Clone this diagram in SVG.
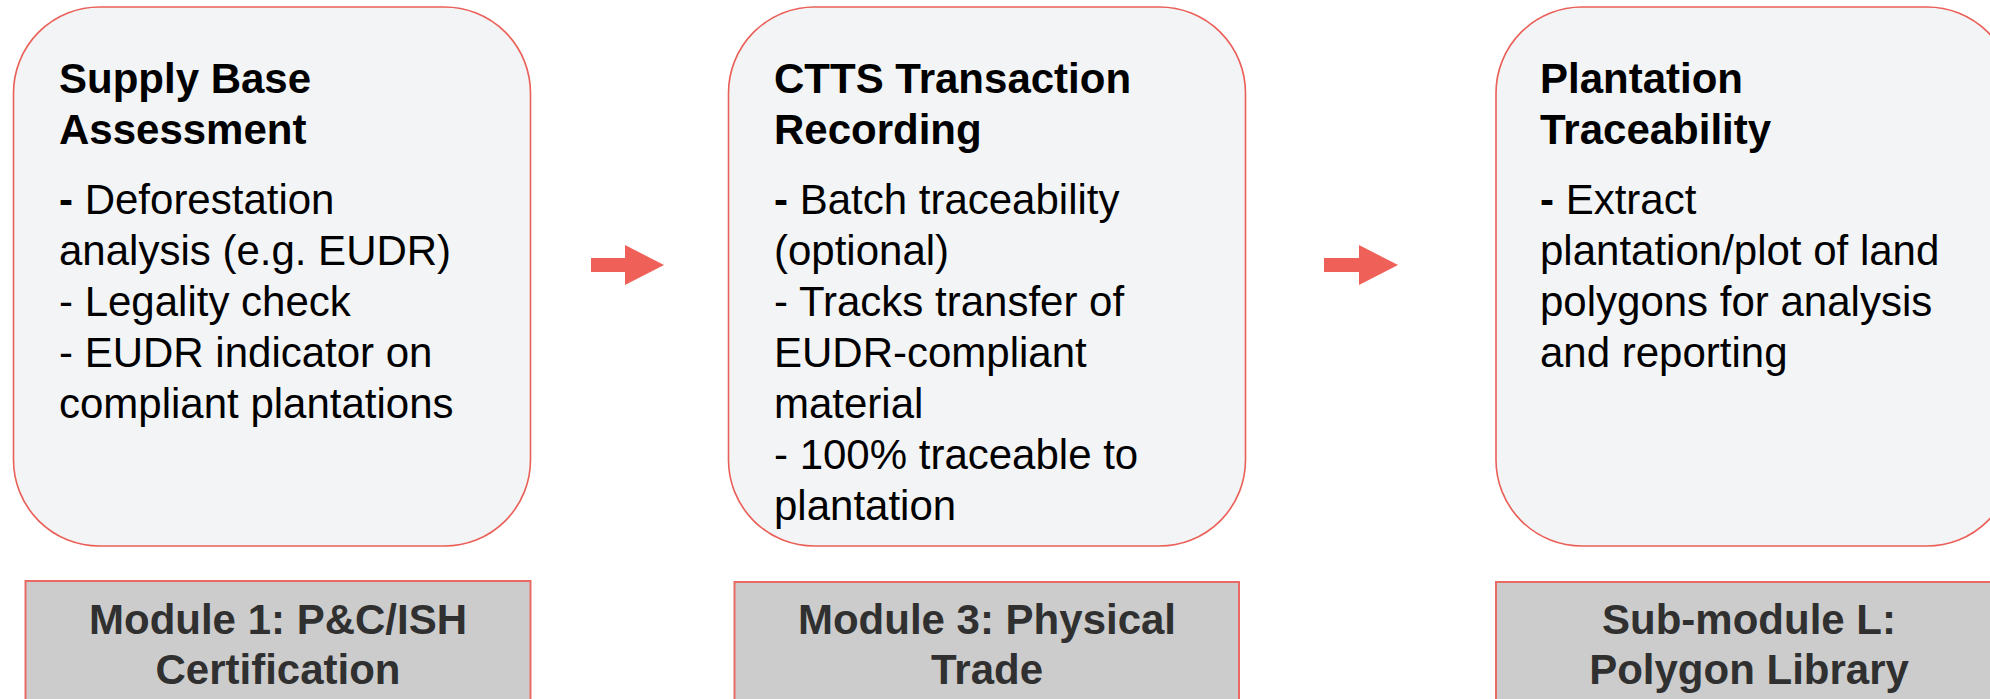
<svg xmlns="http://www.w3.org/2000/svg" width="1990" height="699" viewBox="0 0 1990 699">
<style>
.card{fill:#f3f4f6;stroke:#ea5f57;stroke-width:1.6}
.lab{fill:#cccccc;stroke:#ea6a63;stroke-width:2}
.t{font-family:"Liberation Sans",Arial,sans-serif;font-size:42px;fill:#000}
.b{font-weight:bold}
.lt{font-family:"Liberation Sans",Arial,sans-serif;font-size:42px;font-weight:bold;fill:#303030;text-anchor:middle}
.arr{fill:#ef6058}
</style>
<rect width="1990" height="699" fill="#ffffff"/>
<g id="node-supply-base">
<rect class="card" x="13.5" y="7" width="517" height="539" rx="86" ry="86"/>
<text class="t b" x="59" y="93">Supply Base</text>
<text class="t b" x="59" y="144">Assessment</text>
<text class="t" x="59" y="214"><tspan class="b">-</tspan> Deforestation</text>
<text class="t" x="59" y="265">analysis (e.g. EUDR)</text>
<text class="t" x="59" y="316">- Legality check</text>
<text class="t" x="59" y="367">- EUDR indicator on</text>
<text class="t" x="59" y="418">compliant plantations</text>
</g>
<g id="node-ctts">
<rect class="card" x="728.5" y="7" width="517" height="539" rx="86" ry="86"/>
<text class="t b" x="774" y="93">CTTS Transaction</text>
<text class="t b" x="774" y="144">Recording</text>
<text class="t" x="774" y="214"><tspan class="b">-</tspan> Batch traceability</text>
<text class="t" x="774" y="265">(optional)</text>
<text class="t" x="774" y="316">- Tracks transfer of</text>
<text class="t" x="774" y="367">EUDR-compliant</text>
<text class="t" x="774" y="418">material</text>
<text class="t" x="774" y="469">- 100% traceable to</text>
<text class="t" x="774" y="520">plantation</text>
</g>
<g id="node-plantation">
<rect class="card" x="1496" y="7" width="517" height="539" rx="86" ry="86"/>
<text class="t b" x="1540" y="93">Plantation</text>
<text class="t b" x="1540" y="144">Traceability</text>
<text class="t" x="1540" y="214"><tspan class="b">-</tspan> Extract</text>
<text class="t" x="1540" y="265">plantation/plot of land</text>
<text class="t" x="1540" y="316">polygons for analysis</text>
<text class="t" x="1540" y="367">and reporting</text>
</g>
<g id="label-module1">
<rect class="lab" x="25.5" y="581" width="505" height="130"/>
<text class="lt" x="278" y="634">Module 1: P&amp;C/ISH</text>
<text class="lt" x="278" y="684">Certification</text>
</g>
<g id="label-module3">
<rect class="lab" x="734.5" y="582" width="504.5" height="130"/>
<text class="lt" x="987" y="634">Module 3: Physical</text>
<text class="lt" x="987" y="684">Trade</text>
</g>
<g id="label-submodule-l">
<rect class="lab" x="1496" y="582" width="505" height="130"/>
<text class="lt" x="1749" y="634">Sub-module L:</text>
<text class="lt" x="1749" y="684">Polygon Library</text>
</g>
<g id="connectors">
<polygon class="arr" points="591,258 625,258 625,245 664,265 625,285 625,272 591,272"/>
<polygon class="arr" points="1324,258 1359,258 1359,245 1398,265 1359,285 1359,272 1324,272"/>
</g>
</svg>
